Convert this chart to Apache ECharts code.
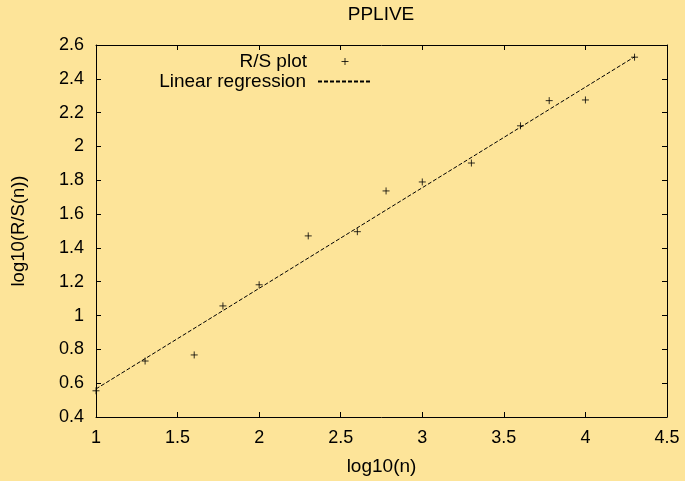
<!DOCTYPE html>
<html>
<head>
<meta charset="utf-8">
<script src="https://cdn.jsdelivr.net/npm/echarts@6/dist/echarts.min.js"></script>
<style>
  html, body { margin: 0; padding: 0; background: #fde499; }
  #chart { width: 685px; height: 481px; }
</style>
</head>
<body>
<div id="chart"></div>
<script>
// R/S points
const logN = [1, 1.301, 1.602, 1.778, 2, 2.301, 2.602, 2.778, 3, 3.301, 3.602, 3.778, 4, 4.301];
const logRS = [0.555, 0.731, 0.767, 1.057, 1.182, 1.471, 1.496, 1.737, 1.79, 1.902, 2.122, 2.271, 2.275, 2.528];

// regression line endpoints
const regX = [1, 4.301];
const regY = [0.566, 2.53];

const FONT = 'Liberation Sans, Arial, sans-serif';
const FS = 18;   // tick labels
const FS_TXT = 19; // title, names, legend

const chart = echarts.init(document.getElementById('chart'));

const plus = 'path://M0,5L10,5M5,0L5,10';

const axisCommon = {
    axisLine: { show: true, onZero: false, lineStyle: { color: '#000', width: 1 } },
    axisTick: { show: true, inside: true, length: 5, lineStyle: { color: '#000' } },
    splitLine: { show: false }
};

const option = {
    backgroundColor: '#fde499',
    animation: false,
    textStyle: { fontFamily: FONT },
    title: {
        text: 'PPLIVE',
        left: 381,
        textAlign: 'center',
        top: 5,
        padding: 0,
        textStyle: { fontFamily: FONT, fontSize: FS_TXT, fontWeight: 'normal', color: '#000' }
    },
    legend: [
        {
            // scatter icon is centred in the 52px slot, box only covers up to the plus
            data: ['R/S plot'],
            right: 336,
            top: 52,
            padding: 0,
            align: 'right',
            itemWidth: 52,
            itemHeight: 7,
            itemStyle: { borderWidth: 1 },
            textStyle: { fontFamily: FONT, fontSize: FS_TXT, color: '#000', padding: [0, 7, 0, 0] }
        },
        {
            data: ['Linear regression'],
            right: 314,
            top: 72,
            padding: 0,
            align: 'right',
            itemWidth: 52,
            itemHeight: 7,
            itemStyle: { opacity: 0 },
            textStyle: { fontFamily: FONT, fontSize: FS_TXT, color: '#000', padding: [0, 7, 0, 0] }
        }
    ],
    grid: { left: 96, right: 18, top: 45, bottom: 62 },
    xAxis: [
        Object.assign({}, axisCommon, {
            type: 'value', min: 1, max: 4.5, interval: 0.5, position: 'bottom',
            name: 'log10(n)', nameLocation: 'middle', nameGap: 40,
            nameTextStyle: { fontFamily: FONT, fontSize: FS_TXT, color: '#000' },
            axisLabel: { fontFamily: FONT, fontSize: FS, color: '#000', margin: 12 }
        }),
        Object.assign({}, axisCommon, {
            type: 'value', min: 1, max: 4.5, interval: 0.5, position: 'top',
            axisLabel: { show: false }
        })
    ],
    yAxis: [
        Object.assign({}, axisCommon, {
            type: 'value', min: 0.4, max: 2.6, interval: 0.2, position: 'left',
            name: 'log10(R/S(n))', nameLocation: 'middle', nameGap: 68,
            nameTextStyle: { fontFamily: FONT, fontSize: 18.5, color: '#000' },
            axisLabel: { fontFamily: FONT, fontSize: FS, color: '#000', margin: 12 }
        }),
        Object.assign({}, axisCommon, {
            type: 'value', min: 0.4, max: 2.6, interval: 0.2, position: 'right',
            axisLabel: { show: false }
        })
    ],
    series: [
        {
            name: 'R/S plot',
            type: 'scatter',
            symbol: plus,
            symbolSize: 7,
            itemStyle: { color: 'transparent', borderColor: '#000', borderWidth: 1 },
            data: logN.map((x, i) => [x, logRS[i]])
        },
        {
            name: 'Linear regression',
            type: 'line',
            symbol: 'none',
            itemStyle: { color: '#000' },
            lineStyle: { color: '#000', width: 1, type: [4, 2] },
            data: regX.map((x, i) => [x, regY[i]])
        }
    ]
};

chart.setOption(option);
</script>
</body>
</html>
